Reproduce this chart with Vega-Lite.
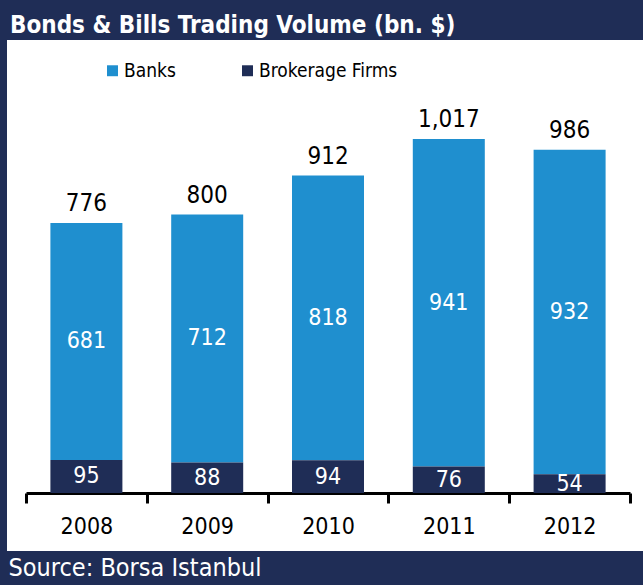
{
  "$schema": "https://vega.github.io/schema/vega-lite/v6.json",
  "autosize": "none",
  "width": 636,
  "height": 511,
  "padding": {"left": 7, "top": 40, "right": 0, "bottom": 34},
  "background": "#1F2D56",
  "config": {
    "view": {"stroke": null, "fill": "white"},
    "font": "DejaVu Sans Condensed"
  },
  "title": {
    "text": "Bonds & Bills Trading Volume (bn. $)",
    "anchor": "start",
    "orient": "top",
    "frame": "group",
    "offset": 7,
    "dx": 3,
    "dy": 24,
    "baseline": "alphabetic",
    "color": "white",
    "font": "DejaVu Sans Condensed",
    "fontWeight": "bold",
    "fontSize": 24
  },
  "data": {
    "values": [
      {"year": "2008", "type": "Banks", "value": 681},
      {"year": "2008", "type": "Brokerage Firms", "value": 95},
      {"year": "2009", "type": "Banks", "value": 712},
      {"year": "2009", "type": "Brokerage Firms", "value": 88},
      {"year": "2010", "type": "Banks", "value": 818},
      {"year": "2010", "type": "Brokerage Firms", "value": 94},
      {"year": "2011", "type": "Banks", "value": 941},
      {"year": "2011", "type": "Brokerage Firms", "value": 76},
      {"year": "2012", "type": "Banks", "value": 932},
      {"year": "2012", "type": "Brokerage Firms", "value": 54}
    ]
  },
  "encoding": {
    "x": {
      "field": "year",
      "type": "nominal",
      "scale": {"range": [19, 623], "paddingInner": 0, "paddingOuter": 0},
      "axis": {
        "orient": "bottom",
        "offset": -58,
        "domainColor": "black",
        "domainWidth": 3,
        "tickColor": "black",
        "tickWidth": 3,
        "tickSize": 10,
        "tickBand": "extent",
        "labelAngle": 0,
        "labelFont": "DejaVu Sans Condensed",
        "labelFontSize": 23,
        "labelColor": "black",
        "labelPadding": 12,
        "title": "Source: Borsa Istanbul",
        "titleColor": "white",
        "titleFont": "DejaVu Sans Condensed",
        "titleFontSize": 25,
        "titleFontWeight": "normal",
        "titleAnchor": "start",
        "titleAlign": "left",
        "titleBaseline": "middle",
        "titleX": 1,
        "titleY": 74
      }
    }
  },
  "layer": [
    {
      "mark": {"type": "bar", "size": 72},
      "encoding": {
        "y": {
          "field": "value",
          "type": "quantitative",
          "stack": "zero",
          "scale": {"domain": [0, 1100], "range": [453, 70.2], "nice": false, "zero": true},
          "axis": null
        },
        "color": {
          "field": "type",
          "type": "nominal",
          "scale": {"domain": ["Banks", "Brokerage Firms"], "range": ["#1F8FCF", "#1F2D56"]},
          "legend": {
            "orient": "none",
            "legendX": 96,
            "legendY": 21,
            "direction": "horizontal",
            "title": null,
            "symbolType": "square",
            "symbolSize": 120,
            "symbolStrokeWidth": 0,
            "labelFont": "DejaVu Sans Condensed",
            "labelFontSize": 19,
            "labelColor": "black",
            "labelOffset": 2,
            "columnPadding": 62,
            "padding": 0
          }
        },
        "order": {"field": "type", "sort": "descending"}
      }
    },
    {
      "mark": {"type": "text", "color": "white", "fontSize": 23, "baseline": "middle", "font": "DejaVu Sans Condensed"},
      "encoding": {
        "y": {"field": "value", "type": "quantitative", "stack": "zero", "bandPosition": 0.5},
        "detail": {"field": "type"},
        "order": {"field": "type", "sort": "descending"},
        "text": {"field": "value", "type": "quantitative"}
      }
    },
    {
      "mark": {"type": "text", "color": "black", "fontSize": 24, "baseline": "bottom", "dy": -7, "font": "DejaVu Sans Condensed"},
      "encoding": {
        "y": {"aggregate": "sum", "field": "value", "type": "quantitative"},
        "text": {"aggregate": "sum", "field": "value", "type": "quantitative", "format": ","}
      }
    }
  ]
}
